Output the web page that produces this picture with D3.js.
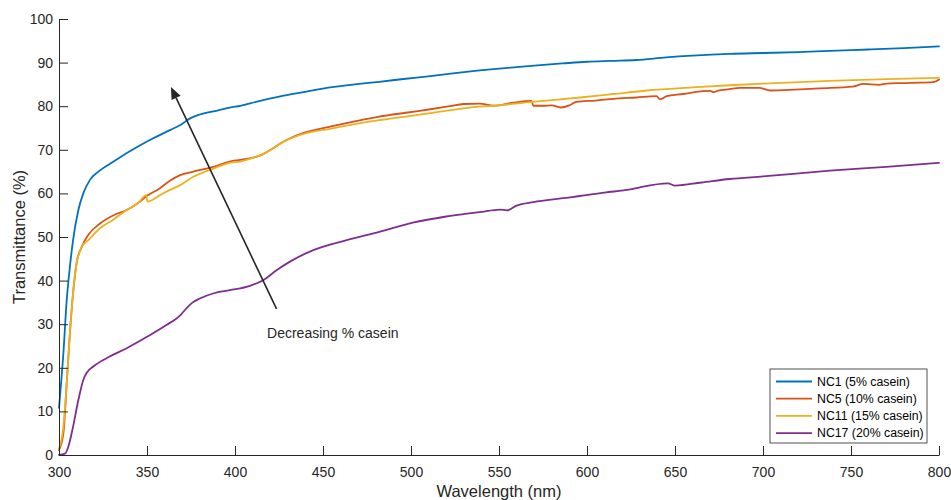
<!DOCTYPE html>
<html>
<head>
<meta charset="utf-8">
<script src="https://cdn.jsdelivr.net/npm/d3@7/dist/d3.min.js"></script>
<style>
  html, body { margin: 0; padding: 0; background: #fff; }
  svg { display: block; font-family: "Liberation Sans", Arial, Helvetica, sans-serif; }
</style>
</head>
<body>
<svg id="chart" width="951" height="500"></svg>
<script>
// Transmittance spectra of NC films, wavelength (nm) vs transmittance (%)
const nc1Wl = [300, 302.5, 304.4, 306.2, 308, 311, 313.8, 317.6, 322.4, 331, 340, 350, 363, 369, 374.5, 380, 391, 397, 403, 412, 425, 440, 454, 468, 482, 497, 511, 525, 539, 555, 570, 586, 600, 614, 628, 645, 660, 681, 700, 720, 738, 760, 780, 800];
const nc1T = [10.8, 23.4, 35.6, 43.2, 49.3, 56.2, 60.0, 63.1, 65.0, 67.3, 69.6, 71.9, 74.5, 75.7, 77.2, 78.1, 79.1, 79.7, 80.1, 81.0, 82.2, 83.3, 84.3, 85.0, 85.6, 86.3, 86.9, 87.6, 88.2, 88.8, 89.3, 89.8, 90.2, 90.4, 90.6, 91.2, 91.6, 92.0, 92.2, 92.4, 92.7, 93.0, 93.3, 93.7];

const nc5Wl = [300, 302.5, 304.4, 306.2, 308, 310, 313, 316.7, 323.3, 331, 338.5, 345, 349.8, 351, 357.4, 363, 368.8, 376.3, 387.7, 397, 403, 412, 416, 421, 426, 431, 437, 445, 454, 468, 482, 497, 511, 522, 530, 539, 547, 558, 568.5, 569.5, 575, 580, 585, 590, 594, 605, 615, 628, 639.5, 641.5, 645.3, 655, 662, 670, 672, 674, 681, 687, 698, 704, 718, 732, 751, 757, 766, 770, 780, 789, 797, 800];
const nc5T = [1.1, 5, 16.5, 28, 37.1, 44, 47.8, 50.5, 53.1, 55, 56.2, 57.8, 59.4, 59.7, 61.2, 62.9, 64.2, 65.0, 66.1, 67.3, 67.7, 68.4, 69.0, 70.2, 71.5, 72.6, 73.6, 74.5, 75.3, 76.5, 77.6, 78.5, 79.3, 80.0, 80.5, 80.6, 80.1, 80.8, 81.2, 80.1, 80.1, 80.2, 79.7, 80.2, 81.0, 81.3, 81.7, 82.0, 82.3, 81.6, 82.3, 82.8, 83.3, 83.5, 83.2, 83.5, 83.9, 84.2, 84.2, 83.6, 83.8, 84.1, 84.5, 85.1, 84.9, 85.2, 85.3, 85.4, 85.5, 86.1];

const nc11Wl = [300, 302.5, 304.4, 306.2, 308, 310, 313, 316.7, 323.3, 331, 338.5, 345, 349.6, 350.2, 357.4, 363, 368.8, 376.3, 387.7, 397, 403, 412, 416, 421, 426, 431, 437, 445, 454, 468, 482, 497, 511, 530, 539, 547, 569, 596, 615, 634, 660, 681, 700, 738, 770, 800];
const nc11T = [1.5, 6.5, 16.5, 28, 37.1, 44, 47.8, 49.3, 52.0, 54, 56.2, 57.8, 59.6, 58.1, 59.6, 60.8, 61.9, 63.8, 65.7, 67.0, 67.3, 68.4, 69.0, 70.2, 71.5, 72.5, 73.4, 74.2, 74.8, 75.9, 76.8, 77.6, 78.4, 79.5, 79.9, 80.1, 81.0, 82.0, 82.8, 83.6, 84.3, 84.8, 85.2, 85.8, 86.2, 86.5];

const nc17Wl = [300, 303.4, 305.3, 308, 311, 313.8, 316, 319.5, 327, 338.5, 350, 361, 369, 372.5, 376, 380, 388, 397, 408.5, 416, 424, 431, 444.5, 463.5, 482, 501, 520, 539, 550.6, 554.4, 560, 569.5, 586.5, 596, 610, 624.4, 630, 646, 650, 665, 681, 700, 738, 770, 800];
const nc17T = [0, 0.3, 1.9, 6.5, 12.6, 17.2, 19.0, 20.3, 22.2, 24.5, 27.1, 29.8, 32.1, 33.7, 35.0, 35.9, 37.1, 37.8, 38.8, 40.1, 42.5, 44.3, 47.0, 49.3, 51.2, 53.3, 54.7, 55.7, 56.3, 56.1, 57.2, 58.0, 58.9, 59.4, 60.2, 60.9, 61.4, 62.3, 61.8, 62.5, 63.3, 63.9, 65.2, 66.1, 67.0];

const seriesNames = ["NC1 (5% casein)", "NC5 (10% casein)", "NC11 (15% casein)", "NC17 (20% casein)"];
const seriesColors = ["#0072BD", "#D95319", "#EDB120", "#7E2F8E"];
const xTicks = [300, 350, 400, 450, 500, 550, 600, 650, 700, 750, 800];
const yTicks = [0, 10, 20, 30, 40, 50, 60, 70, 80, 90, 100];

// Annotation arrow (data coordinates): tail -> tip, and its caption
const arrowTail = [423.6, 33.5];
const arrowTip = [363.6, 84.4];
const arrowText = "Decreasing % casein";
const arrowTextPos = [418.2, 26.8];

const series = [
  { name: seriesNames[0], color: seriesColors[0], pts: nc1Wl.map((w, i) => [w, nc1T[i]]) },
  { name: seriesNames[1], color: seriesColors[1], pts: nc5Wl.map((w, i) => [w, nc5T[i]]) },
  { name: seriesNames[2], color: seriesColors[2], pts: nc11Wl.map((w, i) => [w, nc11T[i]]) },
  { name: seriesNames[3], color: seriesColors[3], pts: nc17Wl.map((w, i) => [w, nc17T[i]]) }
];

const axisColor = "#262626";
const svg = d3.select("#chart");

const x = d3.scaleLinear().domain([300, 800]).range([59, 939]);
const y = d3.scaleLinear().domain([0, 100]).range([455, 19]);

// Curves
const line = d3.line()
  .x(d => x(d[0]))
  .y(d => y(d[1]))
  .curve(d3.curveMonotoneX);

svg.append("g")
  .selectAll("path")
  .data(series)
  .join("path")
  .attr("d", d => line(d.pts))
  .attr("fill", "none")
  .attr("stroke", d => d.color)
  .attr("stroke-width", 1.8)
  .attr("stroke-linejoin", "round")
  .attr("stroke-linecap", "round");

// Axes (ticks pointing into the plot)
const xAxis = svg.append("g")
  .attr("transform", "translate(0,455)")
  .call(d3.axisBottom(x).tickValues(xTicks).tickFormat(d3.format("d"))
    .tickSizeInner(-9).tickSizeOuter(0).tickPadding(12));

const yAxis = svg.append("g")
  .attr("transform", "translate(59,0)")
  .call(d3.axisLeft(y).tickValues(yTicks).tickFormat(d3.format("d"))
    .tickSizeInner(-9).tickSizeOuter(0).tickPadding(6));

[xAxis, yAxis].forEach(g => {
  g.select(".domain").attr("stroke", axisColor).attr("stroke-width", 1);
  g.selectAll(".tick line").attr("stroke", axisColor).attr("stroke-width", 1);
  g.selectAll(".tick text")
    .attr("fill", axisColor)
    .style("font-size", "14px")
    .style("font-family", "\"Liberation Sans\", Arial, sans-serif");
});

// Axis titles
svg.append("text")
  .attr("x", 499)
  .attr("y", 497)
  .attr("text-anchor", "middle")
  .attr("fill", axisColor)
  .style("font-size", "16.5px")
  .text("Wavelength (nm)");

svg.append("text")
  .attr("transform", "translate(25,237) rotate(-90)")
  .attr("text-anchor", "middle")
  .attr("fill", axisColor)
  .style("font-size", "16.5px")
  .text("Transmittance (%)");

// Arrow annotation
const tx = x(arrowTail[0]), ty = y(arrowTail[1]);
const hx = x(arrowTip[0]), hy = y(arrowTip[1]);
const ang = Math.atan2(hy - ty, hx - tx);
const headLen = 12, headHalf = 5;
const bx = hx - headLen * Math.cos(ang), by = hy - headLen * Math.sin(ang);

svg.append("line")
  .attr("x1", tx).attr("y1", ty)
  .attr("x2", bx).attr("y2", by)
  .attr("stroke", axisColor)
  .attr("stroke-width", 1.6);

svg.append("path")
  .attr("d", d3.line()([
    [hx, hy],
    [bx + headHalf * Math.sin(ang), by - headHalf * Math.cos(ang)],
    [bx - headHalf * Math.sin(ang), by + headHalf * Math.cos(ang)]
  ]) + "Z")
  .attr("fill", axisColor);

svg.append("text")
  .attr("x", x(arrowTextPos[0]))
  .attr("y", y(arrowTextPos[1]))
  .attr("fill", axisColor)
  .style("font-size", "14px")
  .text(arrowText);

// Legend
const legend = svg.append("g").attr("transform", "translate(770,369)");
legend.append("rect")
  .attr("width", 157).attr("height", 74)
  .attr("fill", "#fff")
  .attr("stroke", axisColor)
  .attr("stroke-width", 0.8);

const rows = legend.selectAll("g.row")
  .data(series)
  .join("g")
  .attr("class", "row")
  .attr("transform", (d, i) => `translate(0,${12.5 + i * 17.2})`);

rows.append("line")
  .attr("x1", 6).attr("x2", 42)
  .attr("stroke", d => d.color)
  .attr("stroke-width", 1.8);

rows.append("text")
  .attr("x", 47)
  .attr("dy", "0.35em")
  .attr("fill", "#000")
  .style("font-size", "12.3px")
  .text(d => d.name);
</script>
</body>
</html>
